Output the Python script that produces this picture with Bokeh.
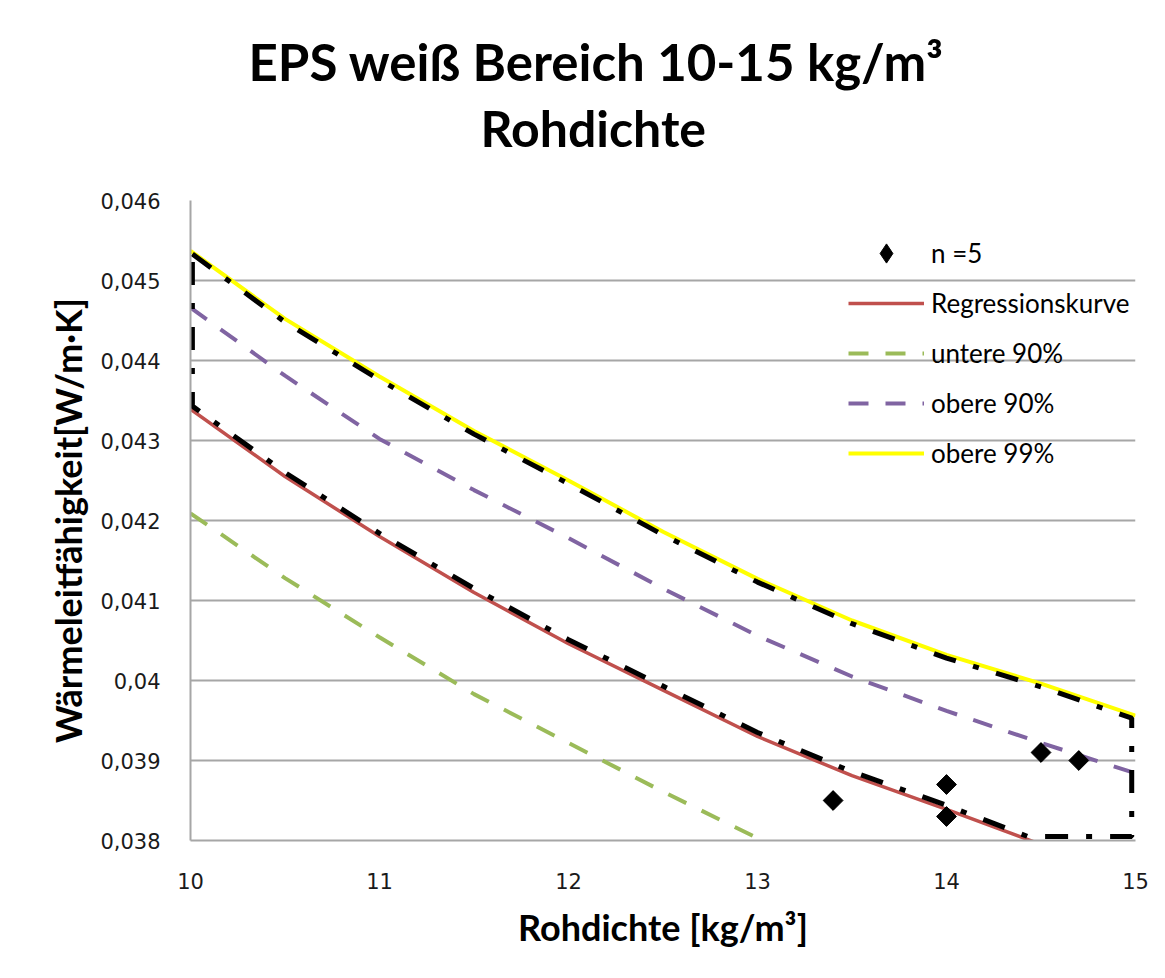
import math
from bokeh.plotting import figure
from bokeh.models import Range1d, FixedTicker, Legend, LegendItem, Title
from bokeh.embed import file_html
from bokeh.resources import INLINE

# ---- texts ----
title_line1 = "EPS weiß Bereich 10-15 kg/m³"
title_line2 = "Rohdichte"
x_label = "Rohdichte [kg/m³]"
y_label = "Wärmeleitfähigkeit[W/m·K]"

# ---- ticks ----
x_ticks = [10, 11, 12, 13, 14, 15]
x_tick_labels = ["10", "11", "12", "13", "14", "15"]
y_ticks = [0.038, 0.039, 0.040, 0.041, 0.042, 0.043, 0.044, 0.045, 0.046]
y_tick_labels = ["0,038", "0,039", "0,04", "0,041", "0,042", "0,043", "0,044", "0,045", "0,046"]

# ---- measured points (n = 5) ----
points_x = [13.4, 14.0, 14.0, 14.5, 14.7]
points_y = [0.0385, 0.0387, 0.0383, 0.0391, 0.0390]

# ---- curves ----
regression_x = [10.0, 10.5, 11.0, 11.5, 12.0, 12.5, 13.0, 13.5, 14.0, 14.5]
regression_y = [0.04339, 0.04255, 0.04180, 0.04110, 0.04046, 0.03988, 0.03930, 0.03881, 0.03839, 0.03795]

lower90_x = [10.0, 10.5, 11.0, 11.5, 12.0, 12.5, 13.0, 13.5]
lower90_y = [0.04209, 0.04128, 0.04054, 0.03983, 0.03922, 0.03861, 0.03803, 0.03748]

upper90_x = [10.0, 10.5, 11.0, 11.5, 12.0, 12.5, 13.0, 13.5, 14.0, 14.5, 15.0]
upper90_y = [0.04466, 0.04381, 0.04302, 0.04238, 0.04178, 0.04115, 0.04056, 0.04005, 0.03962, 0.03922, 0.03884]

upper99_x = [10.0, 10.5, 11.0, 11.5, 12.0, 12.5, 13.0, 13.5, 14.0, 14.5, 15.0]
upper99_y = [0.04537, 0.04452, 0.04380, 0.04312, 0.04250, 0.04186, 0.04127, 0.04075, 0.04032, 0.03996, 0.03956]

# ---- black dash-dot outline of the region ----
boundary_x = [10.01, 10.5, 11.0, 11.5, 12.0, 12.5, 13.0, 13.5, 14.0, 14.5, 14.98,
              14.98, 14.43, 14.0, 13.5, 13.0, 12.5, 12.0, 11.5, 11.0, 10.5, 10.01, 10.01]
boundary_y = [0.04533, 0.04448, 0.04376, 0.04308, 0.04246, 0.04182, 0.04123, 0.04071, 0.04028, 0.03992, 0.03953,
              0.03805, 0.03805, 0.03844, 0.03886, 0.03935, 0.03993, 0.04051, 0.04115, 0.04184, 0.04260, 0.04343, 0.04533]

legend_labels = ["n =5", "Regressionskurve", "untere 90%", "obere 90%", "obere 99%"]

FONT = "Lato"
TICK_FONT = "DejaVu Sans"

p = figure(width=1165, height=978, output_backend="svg", toolbar_location=None,
           x_range=Range1d(10, 15), y_range=Range1d(0.038, 0.046),
           min_border_left=190, min_border_right=30, min_border_top=200, min_border_bottom=138)
p.title.visible = False
p.background_fill_color = "white"
p.border_fill_color = "white"
p.outline_line_color = None

# axes
p.xaxis.ticker = FixedTicker(ticks=x_ticks)
p.xaxis.major_label_overrides = dict(zip(x_ticks, x_tick_labels))
p.yaxis.ticker = FixedTicker(ticks=y_ticks)
p.yaxis.major_label_overrides = dict(zip(y_ticks, y_tick_labels))
for ax in (p.xaxis, p.yaxis):
    ax.major_tick_line_color = None
    ax.minor_tick_line_color = None
    ax.major_label_text_font = TICK_FONT
    ax.major_label_text_font_size = "21px"
    ax.major_label_text_color = "#1a1a1a"
    ax.axis_label_text_font = FONT
    ax.axis_label_text_font_size = "36px"
    ax.axis_label_text_font_style = "bold"
    ax.axis_label_text_color = "black"
p.xaxis.axis_line_color = "#a6a6a6"
p.xaxis.axis_line_width = 2
p.yaxis.axis_line_color = "#a6a6a6"
p.yaxis.axis_line_width = 2
p.xaxis.major_label_standoff = 26
p.yaxis.major_label_standoff = 24
p.xaxis.axis_label = x_label
p.yaxis.axis_label = y_label
p.xaxis.axis_label_standoff = 13
p.yaxis.axis_label_standoff = 7

p.xgrid.grid_line_color = None
p.ygrid.grid_line_color = "#a6a6a6"
p.ygrid.grid_line_width = 2

# series
r_reg = p.line(regression_x, regression_y, line_color="#C0504D", line_width=3.5)
r_low = p.line(lower90_x, lower90_y, line_color="#9BBB59", line_width=4, line_dash="20 17")
r_up90 = p.line(upper90_x, upper90_y, line_color="#8064A2", line_width=4, line_dash="20 17")
r_up99 = p.line(upper99_x, upper99_y, line_color="#FFFF00", line_width=4)
p.line(boundary_x, boundary_y, line_color="black", line_width=5, line_dash="23 18 6 18")
# diamond glyph (used for the legend symbol), covered by the rotated squares
r_pts_legend = p.scatter(points_x, points_y, marker="diamond", size=19,
                         fill_color="black", line_color="black")
p.scatter(points_x, points_y, marker="square", size=14, angle=math.pi / 4,
          fill_color="black", line_color="black")

legend = Legend(items=[
    LegendItem(label=legend_labels[0], renderers=[r_pts_legend]),
    LegendItem(label=legend_labels[1], renderers=[r_reg]),
    LegendItem(label=legend_labels[2], renderers=[r_low]),
    LegendItem(label=legend_labels[3], renderers=[r_up90]),
    LegendItem(label=legend_labels[4], renderers=[r_up99]),
], location=(658, 363))
legend.background_fill_alpha = 0
legend.border_line_color = None
legend.padding = 0
legend.margin = 0
legend.spacing = 2
legend.glyph_width = 76
legend.glyph_height = 48
legend.label_height = 48
legend.label_standoff = 7
legend.label_text_font = FONT
legend.label_text_font_size = "26px"
legend.label_text_color = "black"
p.add_layout(legend)

# title (two lines), stacked above the frame: first added is closest to the frame
p.add_layout(Title(text=title_line2, align="left", offset=290, standoff=86,
                   vertical_align="bottom",
                   text_font=FONT, text_font_size="50px", text_font_style="bold",
                   text_color="black"), "above")
p.add_layout(Title(text=title_line1, align="left", offset=58, standoff=-78,
                   vertical_align="bottom",
                   text_font=FONT, text_font_size="51px", text_font_style="bold",
                   text_color="black"), "above")

open("out.html", "w").write(file_html(p, INLINE))
